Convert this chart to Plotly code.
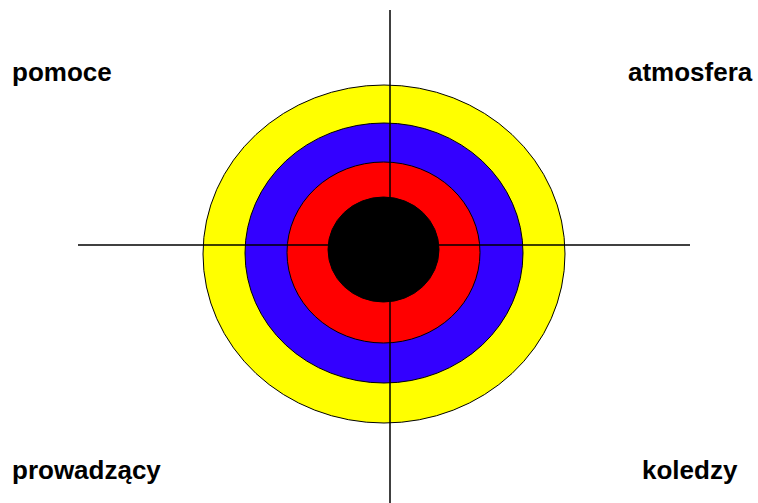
import plotly.graph_objects as go

# --- data ---
corner_labels = ["pomoce", "atmosfera", "prowadzący", "koledzy"]
label_x = [10, 755, 10, 740]
label_y = [72, 72, 470, 470]
label_anchor = ["left", "right", "left", "right"]

ring_names = ["outer", "second", "third", "bull"]
ring_colors = ["#FFFF00", "#3300FF", "#FF0000", "#000000"]
ring_cx = [384, 384, 383.5, 383.5]
ring_cy = [254, 253, 252.5, 249.5]
ring_rx = [181, 139, 96.5, 55.5]
ring_ry = [169, 130, 90.5, 52.5]

axis_x = 390
axis_y = 245
vline_span = [10, 503]
hline_span = [78, 690]

W, H = 758, 503

fig = go.Figure()
fig.add_trace(go.Scatter(x=[0, W], y=[0, H], mode="markers",
                         marker=dict(opacity=0), hoverinfo="skip", showlegend=False))

shapes = []
def ring(i):
    return dict(type="circle", xref="x", yref="y",
                x0=ring_cx[i] - ring_rx[i], x1=ring_cx[i] + ring_rx[i],
                y0=ring_cy[i] - ring_ry[i], y1=ring_cy[i] + ring_ry[i],
                fillcolor=ring_colors[i], line=dict(color="#000000", width=1))

for i in range(3):
    shapes.append(ring(i))
shapes.append(dict(type="line", xref="x", yref="y", x0=axis_x, x1=axis_x,
                   y0=vline_span[0], y1=vline_span[1], line=dict(color="#000", width=1.5)))
shapes.append(dict(type="line", xref="x", yref="y", x0=hline_span[0], x1=hline_span[1],
                   y0=axis_y, y1=axis_y, line=dict(color="#000", width=1.5)))
shapes.append(ring(3))

annotations = []
for t, x, y, a in zip(corner_labels, label_x, label_y, label_anchor):
    annotations.append(dict(text="<b>%s</b>" % t, x=x, y=y, xref="x", yref="y",
                            xanchor=a, yanchor="middle", showarrow=False,
                            font=dict(family="Liberation Sans, Arial", size=26, color="#000")))

fig.update_layout(width=W, height=H, margin=dict(l=0, r=0, t=0, b=0),
                  paper_bgcolor="white", plot_bgcolor="white",
                  xaxis=dict(range=[0, W], visible=False, fixedrange=True),
                  yaxis=dict(range=[H, 0], visible=False, fixedrange=True),
                  shapes=shapes, annotations=annotations, showlegend=False)

fig.write_html("out.html", config={"displayModeBar": False},
               post_script="document.body.style.margin='0';document.body.style.overflow='hidden';")
